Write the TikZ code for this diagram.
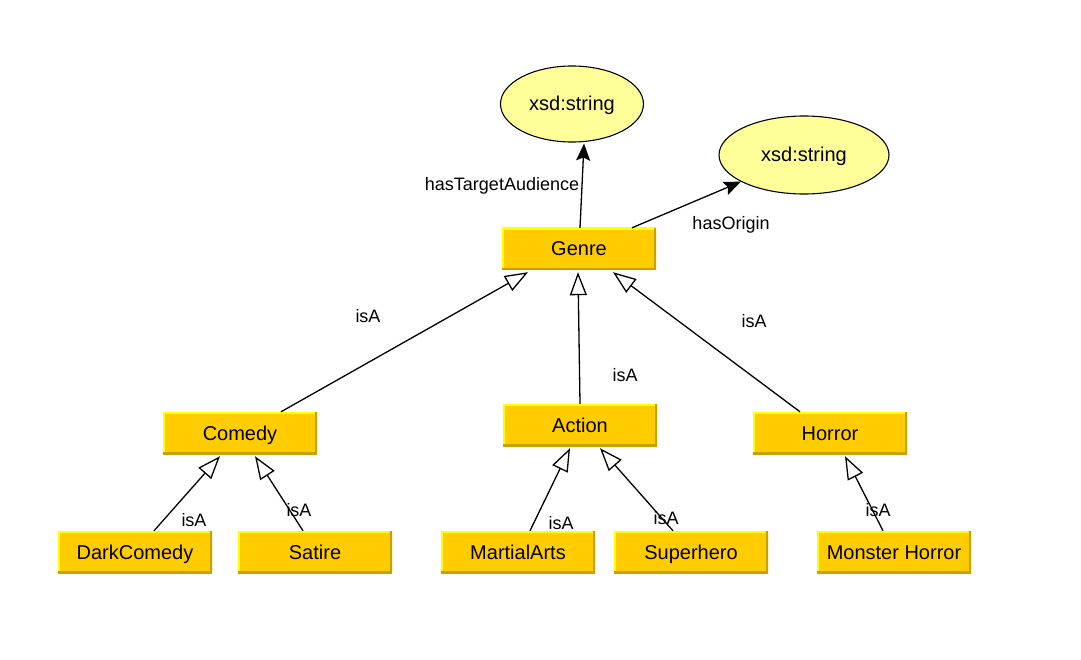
\documentclass[tikz,border=0pt]{standalone}
\usepackage{fontspec}
\setmainfont{Liberation Sans}
\usetikzlibrary{shapes.geometric,arrows.meta}
\definecolor{classfill}{HTML}{FFCC00}
\definecolor{classlight}{HTML}{FFFF00}
\definecolor{classdark}{HTML}{C8A000}
\definecolor{litfill}{HTML}{FFFF99}
\tikzset{
  classbox/.style={rectangle, fill=classfill, minimum width=154pt, minimum height=42pt,
    inner sep=0pt, font=\fontsize{20}{24}\selectfont, text height=16pt, text depth=2pt,
    path picture={
      \draw[classlight, line width=4pt]
        (path picture bounding box.south west) -- (path picture bounding box.north west)
        -- (path picture bounding box.north east);
      \draw[classdark, line width=4pt]
        (path picture bounding box.north east) -- (path picture bounding box.south east)
        -- (path picture bounding box.south west);
    }},
  literal/.style={ellipse, draw=black, line width=1.1pt, fill=litfill, inner sep=0pt,
    font=\fontsize{20}{24}\selectfont, text height=16pt, text depth=2pt},
  edgelabel/.style={inner sep=0pt, font=\fontsize{18}{22}\selectfont},
  isa/.style={draw=black, line width=1.3pt,
    -{Triangle[length=23pt, width=17pt, fill=white, line width=1.3pt]}},
  prop/.style={draw=black, line width=1.3pt,
    -{Stealth[length=17pt, width=14pt, inset=3pt]}},
}
\begin{document}
\begin{tikzpicture}[x=1pt, y=-1pt]
  \useasboundingbox (0,0) rectangle (1081,660);

  % literals
  \node[literal, minimum width=143pt, minimum height=76pt] (lit1) at (572,104) {xsd:string};
  \node[literal, minimum width=170pt, minimum height=78pt] (lit2) at (804,155) {xsd:string};

  % classes
  \node[classbox] (genre)   at (579,249) {Genre};
  \node[classbox] (comedy)  at (240,433) {Comedy};
  \node[classbox] (action)  at (580,425) {Action};
  \node[classbox] (horror)  at (830,433) {Horror};
  \node[classbox] (dark)    at (135,552) {DarkComedy};
  \node[classbox] (satire)  at (315,552) {Satire};
  \node[classbox] (martial) at (518,552) {MartialArts};
  \node[classbox] (hero)    at (691,552) {Superhero};
  \node[classbox] (monster) at (894,552) {Monster Horror};

  % datatype properties
  \draw[prop] ([xshift=1pt]genre.north) -- ([xshift=12pt,yshift=-1pt]lit1.south);
  \draw[prop] ([xshift=53pt]genre.north) -- (lit2);

  % subclass links
  \draw[isa] ([xshift=41pt]comedy.north)  -- ([xshift=-51pt,yshift=-2pt]genre.south);
  \draw[isa] (action.north)               -- ([xshift=-1pt,yshift=-2pt]genre.south);
  \draw[isa] ([xshift=-30pt]horror.north) -- ([xshift=34pt,yshift=-2pt]genre.south);
  \draw[isa] ([xshift=19pt]dark.north)    -- ([xshift=-20pt,yshift=-2pt]comedy.south);
  \draw[isa] ([xshift=-12pt]satire.north) -- ([xshift=15pt,yshift=-2pt]comedy.south);
  \draw[isa] ([xshift=12pt]martial.north) -- ([xshift=-10pt,yshift=-2pt]action.south);
  \draw[isa] ([xshift=-18pt]hero.north)   -- ([xshift=20pt,yshift=-2pt]action.south);
  \draw[isa] ([xshift=-11pt]monster.north) -- ([xshift=15pt,yshift=-2pt]horror.south);

  % labels
  \node[edgelabel] (lTarget) at (502,186) {hasTargetAudience};
  \node[edgelabel] (lOrigin) at (731,225) {hasOrigin};
  \node[edgelabel] (lComedy) at (368,316) {isA};
  \node[edgelabel] (lAction) at (625,375) {isA};
  \node[edgelabel] (lHorror) at (754,321) {isA};
  \node[edgelabel] (lDark)   at (194,520) {isA};
  \node[edgelabel] (lSatire) at (299,510) {isA};
  \node[edgelabel] (lMartial) at (561,523) {isA};
  \node[edgelabel] (lHero)   at (666,518) {isA};
  \node[edgelabel] (lMonster) at (878,510) {isA};
\end{tikzpicture}
\end{document}
